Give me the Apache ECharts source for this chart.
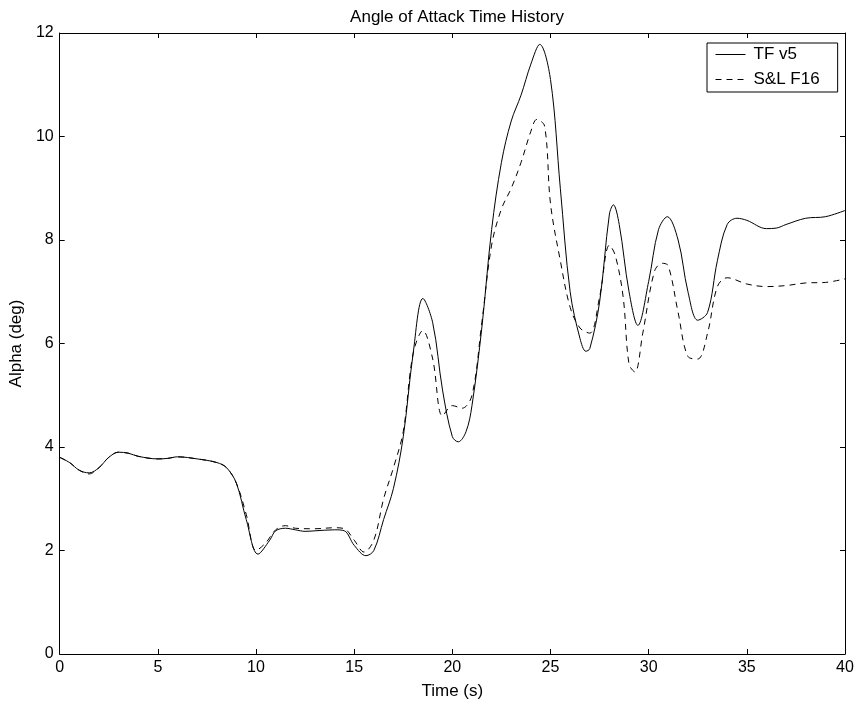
<!DOCTYPE html>
<html>
<head>
<meta charset="utf-8">
<script src="https://cdn.jsdelivr.net/npm/echarts@6/dist/echarts.min.js"></script>
<style>html,body{margin:0;padding:0;background:#fff;}#c{width:858px;height:708px;}</style>
</head>
<body>
<div id="c"></div>
<script>
var titleText = 'Angle of Attack Time History';
var xTicks = [0, 5, 10, 15, 20, 25, 30, 35, 40];
var yTicks = [0, 2, 4, 6, 8, 10, 12];

var tfTime = [0,0.5,1,1.5,2,2.5,3,3.5,4,5,5.5,6,7,8,8.5,9,9.5,10.1,10.7,11,11.5,12,12.5,13,14,14.5,15,15.6,16,16.5,17,17.5,18,18.5,19,19.5,20,20.3,20.7,21,21.5,22,22.5,23,23.5,24,24.45,25,25.5,26,26.5,26.8,27,27.5,28,28.2,28.5,29,29.45,30,30.5,30.95,31.5,32,32.5,33,33.5,34,34.5,35,36,36.5,37,38,39,40];
var tfAlpha = [3.8,3.7,3.55,3.5,3.6,3.8,3.9,3.88,3.82,3.77,3.78,3.81,3.77,3.7,3.6,3.3,2.6,1.93,2.2,2.38,2.43,2.4,2.37,2.38,2.4,2.38,2.1,1.9,2.0,2.6,3.2,4.2,5.8,6.87,6.4,5.1,4.2,4.1,4.3,4.8,6.3,8.2,9.5,10.3,10.8,11.4,11.78,11.1,9.0,7.0,6.1,5.85,5.9,6.8,8.5,8.68,8.3,7.0,6.35,7.2,8.2,8.45,8.0,7.0,6.45,6.6,7.6,8.3,8.42,8.38,8.22,8.23,8.3,8.42,8.45,8.57];

var slTime = [0,0.5,1,1.5,2,2.5,3,3.5,4,5,5.5,6,7,8,8.5,9,9.5,10,10.5,11,11.5,12,13,14,14.5,15,15.5,16,16.5,17,17.5,18,18.5,19,19.5,20,20.5,21,21.5,22,22.5,23,23.5,24,24.3,24.7,25,25.5,26,26.5,27,27.5,28,28.3,28.7,29,29.3,29.7,30.3,30.7,31,31.5,32,32.5,33,33.5,34,35,36,37,38,39,40];
var slAlpha = [3.8,3.7,3.55,3.48,3.6,3.8,3.9,3.88,3.82,3.77,3.78,3.81,3.77,3.7,3.6,3.3,2.7,2.0,2.15,2.4,2.48,2.43,2.42,2.44,2.42,2.2,1.97,2.2,3.0,3.6,4.3,5.8,6.25,5.7,4.6,4.8,4.75,5.0,6.4,7.9,8.6,9.0,9.5,10.1,10.33,10.2,8.7,7.6,6.7,6.3,6.2,6.9,7.9,7.7,6.9,5.6,5.45,6.2,7.4,7.55,7.5,6.6,5.75,5.7,6.2,7.1,7.27,7.15,7.1,7.12,7.17,7.18,7.25];

function pairs(t, v) { return t.map(function (x, i) { return [x, v[i]]; }); }

var font = 'Liberation Sans, Arial, sans-serif';
var chart = echarts.init(document.getElementById('c'));
var axisCommon = {
  axisLine: { show: true, onZero: false, lineStyle: { color: '#000', width: 1 } },
  axisTick: { show: true, inside: true, length: 5, lineStyle: { color: '#000' } },
  splitLine: { show: false }
};
chart.setOption({
  animation: false,
  backgroundColor: '#fff',
  title: {
    text: titleText, left: 452, top: 4, textAlign: 'center',
    textStyle: { fontFamily: font, fontSize: 17, fontWeight: 'normal', color: '#000' }
  },
  legend: {
    left: 707, top: 43, orient: 'vertical',
    data: ['TF v5', 'S&L F16'],
    backgroundColor: '#fff',
    borderColor: '#000', borderWidth: 1, borderRadius: 0,
    padding: [3, 18, 4, 8],
    itemWidth: 30, itemHeight: 16, itemGap: 8,
    itemStyle: { opacity: 0 },
    lineStyle: { width: 1 },
    textStyle: { fontFamily: font, fontSize: 17, color: '#000', padding: [0, 0, 0, 3] }
  },
  grid: { left: 59, right: 13, top: 33, bottom: 54, containLabel: false },
  xAxis: [
    Object.assign({}, axisCommon, {
      type: 'value', min: 0, max: 40, interval: 5, position: 'bottom',
      name: 'Time (s)', nameLocation: 'middle', nameGap: 29,
      nameTextStyle: { fontFamily: font, fontSize: 17, color: '#000' },
      axisLabel: { fontFamily: font, fontSize: 16, color: '#000', margin: 6 }
    }),
    Object.assign({}, axisCommon, {
      type: 'value', min: 0, max: 40, interval: 5, position: 'top',
      axisLabel: { show: false }
    })
  ],
  yAxis: [
    Object.assign({}, axisCommon, {
      type: 'value', min: 0, max: 12, interval: 2, position: 'left',
      name: 'Alpha (deg)', nameLocation: 'middle', nameGap: 33, nameRotate: 90,
      nameTextStyle: { fontFamily: font, fontSize: 17, color: '#000' },
      axisLabel: { fontFamily: font, fontSize: 16, color: '#000', margin: 6 }
    }),
    Object.assign({}, axisCommon, {
      type: 'value', min: 0, max: 12, interval: 2, position: 'right',
      axisLabel: { show: false }
    })
  ],
  series: [
    {
      name: 'TF v5', type: 'line', data: pairs(tfTime, tfAlpha),
      showSymbol: false, symbol: 'none', smooth: 0.35,
      lineStyle: { color: '#000', width: 1, type: 'solid' },
      itemStyle: { color: '#000' }
    },
    {
      name: 'S&L F16', type: 'line', data: pairs(slTime, slAlpha),
      showSymbol: false, symbol: 'none', smooth: 0.35,
      lineStyle: { color: '#000', width: 1, type: [6, 5] },
      itemStyle: { color: '#000' }
    }
  ]
});
</script>
</body>
</html>
